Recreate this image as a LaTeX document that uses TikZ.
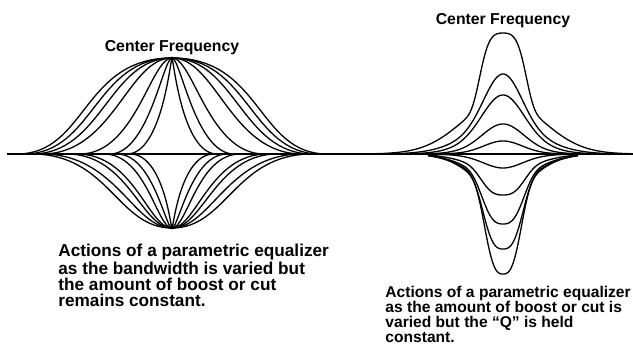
\documentclass[tikz,border=0pt]{standalone}
\usepackage{fontspec}
\setmainfont{Liberation Sans}
\usetikzlibrary{positioning}

\begin{document}
\begin{tikzpicture}[
  x=0.5pt, y=0.5pt,
  % ── styles ───────────────────────────────────────────────────────────────
  axis/.style={draw=black, line width=0.65pt},
  curve/.style={draw=black, line width=0.65pt},
  caption/.style={font=\fontsize{8.6}{8}\selectfont\bfseries,
    align=left, inner sep=0pt, anchor=north west},
  smallcaption/.style={caption, font=\fontsize{7.8}{7.5}\selectfont\bfseries},
  cflabel/.style={font=\fontsize{7.9}{9}\selectfont\bfseries,
    inner sep=0pt, anchor=base},
  declare function={
    bell(\u,\n,\sa,\p,\sb)=(1-\p)*exp(-1*pow((abs(\u)+0.01)/\sa,\n))
                           +\p*exp(-1*pow(\u/\sb,2));
  },
]
\useasboundingbox (0,-199) rectangle (633,154);

\def\cenL{172}  % left centre
\def\cenR{503}  % right centre

% ── Baseline ────────────────────────────────────────────────────────────────
\coordinate (axL) at (7,0);
\coordinate (axR) at (633,0);
\draw[axis] (axL) -- (axR);

% ── Left: bandwidth varied, boost / cut constant ─────────────────────────────
\foreach \w/\a/\b in {155/0.45/0.58, 148/0.47/0.52, 140/0.50/0.45,
                      130/0.55/0.34, 92/0.60/0.23, 62/0.62/0.14, 45/0.78/0.03}{
  \draw[curve] ({\cenL-\w},0)
    .. controls ({\cenL-\w+\a*\w},0) and ({\cenL-\b*\w},96) .. (\cenL,96)
    .. controls ({\cenL+\b*\w},96) and ({\cenL+\w-\a*\w},0) .. ({\cenL+\w},0);
}
\foreach \w/\a/\b in {140/0.55/0.39, 130/0.57/0.30, 105/0.58/0.29,
                      95/0.60/0.25, 68/0.62/0.22, 55/0.65/0.12, 42/0.80/0.03}{
  \draw[curve] ({\cenL-\w},0)
    .. controls ({\cenL-\w+\a*\w},0) and ({\cenL-\b*\w},-74) .. (\cenL,-74)
    .. controls ({\cenL+\b*\w},-74) and ({\cenL+\w-\a*\w},0) .. ({\cenL+\w},0);
}

% ── Right: boost / cut varied, Q constant ────────────────────────────────────
\foreach \h/\n/\sa/\p/\sb/\w in {121/4/25/0.45/56/135, 80/2/26/0.34/52/100,
    59/2/28/0.35/45/85, 30/2/28/0.30/40/75, 13/2/26/0.25/35/70,
    -14/2/26/0.30/40/70, -41/3/25/0.40/45/75, -70/3/24/0.35/45/75,
    -95/3/23/0.30/45/75, -120/3/21/0.30/42/75}{
  \draw[curve] plot[domain=-\w:\w, samples=120, smooth]
    ({\cenR+\x}, {\h*bell(\x,\n,\sa,\p,\sb)});
}

% ── Labels ───────────────────────────────────────────────────────────────────
\node[cflabel] (cfL) at (\cenL,102) {Center Frequency};
\node[cflabel] (cfR) at (\cenR,129) {Center Frequency};

\node[caption] (capL) at (58,-90) {Actions of a parametric equalizer\\
  as the bandwidth is varied but\\ the amount of boost or cut\\
  remains constant.};
\node[smallcaption] (capR) at (385,-132) {Actions of a parametric equalizer\\
  as the amount of boost or cut is\\ varied but the ``Q'' is held\\
  constant.};

\end{tikzpicture}
\end{document}
